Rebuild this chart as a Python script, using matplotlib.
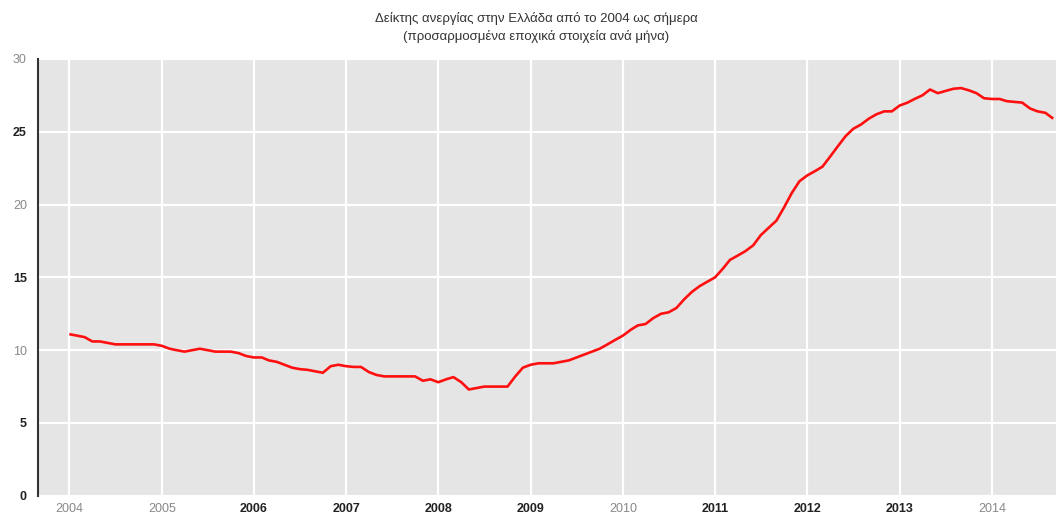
import matplotlib
matplotlib.use("Agg")
import matplotlib.pyplot as plt
import matplotlib.dates as mdates
import pandas as pd

title_1 = "Δείκτης ανεργίας στην Ελλάδα από το 2004 ως σήμερα"
title_2 = "(προσαρμοσμένα εποχικά στοιχεία ανά μήνα)"

# monthly, seasonally adjusted, Jan 2004 .. Sep 2014
start_month = "2004-01-01"
rate = [
    11.1, 11.0, 10.9, 10.6, 10.6, 10.5, 10.4, 10.4, 10.4, 10.4, 10.4, 10.4,  # 2004
    10.3, 10.1, 10.0, 9.9, 10.0, 10.1, 10.0, 9.9, 9.9, 9.9, 9.8, 9.6,        # 2005
    9.5, 9.5, 9.3, 9.2, 9.0, 8.8, 8.7, 8.65, 8.55, 8.45, 8.9, 9.0,           # 2006
    8.9, 8.85, 8.85, 8.5, 8.3, 8.2, 8.2, 8.2, 8.2, 8.2, 7.9, 8.0,            # 2007
    7.8, 8.0, 8.15, 7.8, 7.3, 7.4, 7.5, 7.5, 7.5, 7.5, 8.2, 8.8,             # 2008
    9.0, 9.1, 9.1, 9.1, 9.2, 9.3, 9.5, 9.7, 9.9, 10.1, 10.4, 10.7,           # 2009
    11.0, 11.4, 11.7, 11.8, 12.2, 12.5, 12.6, 12.9, 13.5, 14.0, 14.4, 14.7,  # 2010
    15.0, 15.6, 16.2, 16.5, 16.8, 17.2, 17.9, 18.4, 18.9, 19.8, 20.8, 21.6,  # 2011
    22.0, 22.3, 22.6, 23.3, 24.0, 24.7, 25.2, 25.5, 25.9, 26.2, 26.4, 26.4,  # 2012
    26.8, 27.0, 27.25, 27.5, 27.9, 27.65, 27.8, 27.95, 28.0, 27.85, 27.65, 27.3,  # 2013
    27.25, 27.25, 27.1, 27.05, 27.0, 26.6, 26.4, 26.3, 25.9,                 # 2014
]
years = list(range(2004, 2015))
y_ticks = [0, 5, 10, 15, 20, 25, 30]

dates = pd.date_range(start_month, periods=len(rate), freq="MS")

plt.rcParams["font.family"] = ["Liberation Sans", "DejaVu Sans"]

fig = plt.figure(figsize=(10.56, 5.17), dpi=100)
ax = fig.add_axes([0.036, 0.041, 0.964, 0.845])
ax.set_facecolor("#e5e5e5")

ax.plot(dates, rate, color="#ff1010", lw=1.9, solid_capstyle="butt", zorder=3)

ax.set_xlim(pd.Timestamp("2003-08-30"), pd.Timestamp("2014-09-12"))
ax.set_ylim(0, 30)
ax.set_yticks(y_ticks)
ax.set_xticks([pd.Timestamp(f"{y}-01-01") for y in years])
ax.xaxis.set_major_formatter(mdates.DateFormatter("%Y"))
ax.grid(True, color="white", lw=1.6)
ax.set_axisbelow(True)
ax.tick_params(length=0, labelsize=9, colors="#222222")
ax.tick_params(axis="y", pad=8)
ax.tick_params(axis="x", pad=5)

for s in ["top", "right", "bottom"]:
    ax.spines[s].set_visible(False)
ax.spines["left"].set_color("#333333")
ax.spines["left"].set_linewidth(1.5)

# the source renders some labels faint and some heavy
for lab, yv in zip(ax.get_yticklabels(), y_ticks):
    if yv in (30, 20, 10):
        lab.set_color("#888888")
    else:
        lab.set_fontweight("bold")
for lab, yr in zip(ax.get_xticklabels(), years):
    if yr in (2004, 2005, 2010, 2014):
        lab.set_color("#888888")
    else:
        lab.set_fontweight("bold")

fig.text(0.508, 0.965, title_1, ha="center", va="center", fontsize=9.5, color="#333333")
fig.text(0.508, 0.930, title_2, ha="center", va="center", fontsize=9.5, color="#333333")

fig.savefig("out.png", dpi=100)
